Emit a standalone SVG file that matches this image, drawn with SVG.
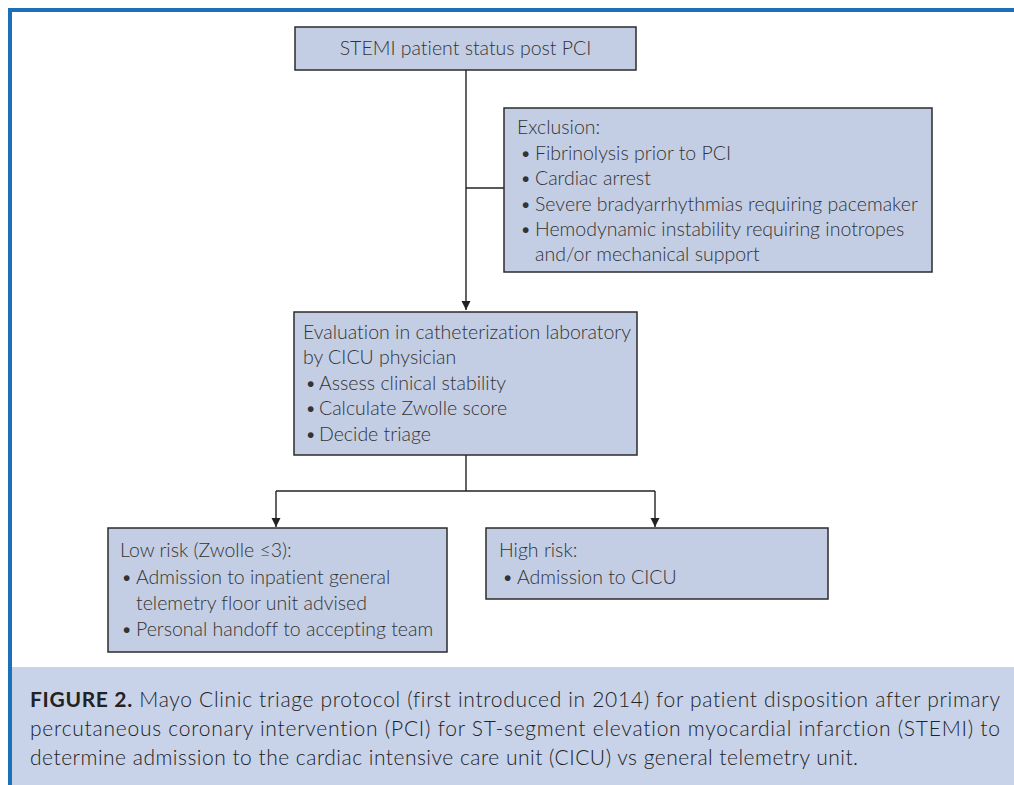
<svg xmlns="http://www.w3.org/2000/svg" width="1014" height="785" viewBox="0 0 1014 785">
<defs>
<style>
.box{fill:#c3cee5;stroke:#2b2b2b;stroke-width:1.5}
.t{font-family:Lato,"Open Sans",sans-serif;font-size:19.5px;fill:#333;font-weight:300;font-variant-ligatures:none}
.c{font-family:Lato,"Open Sans",sans-serif;font-size:21px;fill:#222;font-weight:300;font-variant-ligatures:none}
.conn{fill:none;stroke:#222;stroke-width:1.4}
</style>
<marker id="arr" viewBox="0 0 10 10" refX="10" refY="5" markerWidth="9" markerHeight="10" markerUnits="userSpaceOnUse" orient="auto">
<path d="M0,0 L10,5 L0,10 Z" fill="#222"/>
</marker>
</defs>
<rect width="1014" height="785" fill="#fff"/>
<rect x="12" y="667" width="1002" height="118" fill="#c8d3ea"/>
<path d="M10,785 V10 H1014" fill="none" stroke="#1c70b8" stroke-width="4"/>

<g id="connectors">
<path class="conn" d="M466,70 V310" marker-end="url(#arr)"/>
<path class="conn" d="M466,188 H504"/>
<path class="conn" d="M466,455 V491"/>
<path class="conn" d="M276,491 H655"/>
<path class="conn" d="M276,491 V527" marker-end="url(#arr)"/>
<path class="conn" d="M655,491 V527" marker-end="url(#arr)"/>
</g>

<g id="start">
<rect class="box" x="295" y="27" width="341" height="43"/>
<text class="t" x="465.5" y="55" text-anchor="middle">STEMI patient status post PCI</text>
</g>

<g id="exclusion">
<rect class="box" x="504" y="108" width="428" height="164"/>
<text class="t" x="517" y="134">Exclusion:</text>
<text class="t" x="520" y="160">•</text><text class="t" x="535" y="160">Fibrinolysis prior to PCI</text>
<text class="t" x="520" y="185">•</text><text class="t" x="535" y="185">Cardiac arrest</text>
<text class="t" x="520" y="211">•</text><text class="t" x="535" y="211">Severe bradyarrhythmias requiring pacemaker</text>
<text class="t" x="520" y="236">•</text><text class="t" x="535" y="236">Hemodynamic instability requiring inotropes</text>
<text class="t" x="535" y="261">and/or mechanical support</text>
</g>

<g id="evaluation">
<rect class="box" x="294" y="312" width="343" height="143"/>
<text class="t" x="303" y="339">Evaluation in catheterization laboratory</text>
<text class="t" x="303" y="364">by CICU physician</text>
<text class="t" x="305" y="390">•</text><text class="t" x="319" y="390">Assess clinical stability</text>
<text class="t" x="305" y="415">•</text><text class="t" x="319" y="415">Calculate Zwolle score</text>
<text class="t" x="305" y="441">•</text><text class="t" x="319" y="441">Decide triage</text>
</g>

<g id="low-risk">
<rect class="box" x="108" y="528" width="339" height="124"/>
<text class="t" x="120" y="557">Low risk (Zwolle ≤3):</text>
<text class="t" x="121" y="584">•</text><text class="t" x="136" y="584">Admission to inpatient general</text>
<text class="t" x="136" y="610">telemetry floor unit advised</text>
<text class="t" x="121" y="636">•</text><text class="t" x="136" y="636">Personal handoff to accepting team</text>
</g>

<g id="high-risk">
<rect class="box" x="486" y="528" width="342" height="71"/>
<text class="t" x="499" y="557">High risk:</text>
<text class="t" x="502" y="584">•</text><text class="t" x="517" y="584">Admission to CICU</text>
</g>

<g id="caption">
<text class="c" x="30" y="707" textLength="970" lengthAdjust="spacing"><tspan font-weight="700">FIGURE 2.</tspan> Mayo Clinic triage protocol (first introduced in 2014) for patient disposition after primary</text>
<text class="c" x="30" y="736" textLength="970" lengthAdjust="spacing">percutaneous coronary intervention (PCI) for ST-segment elevation myocardial infarction (STEMI) to</text>
<text class="c" x="30" y="765" textLength="828" lengthAdjust="spacing">determine admission to the cardiac intensive care unit (CICU) vs general telemetry unit.</text>
</g>
</svg>
